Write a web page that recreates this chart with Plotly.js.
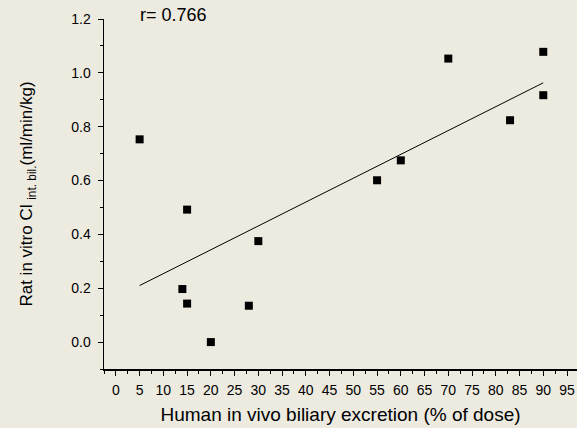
<!DOCTYPE html>
<html><head><meta charset="utf-8">
<script src="https://cdn.plot.ly/plotly-3.0.1.min.js"></script>
<style>html,body{margin:0;padding:0;background:#edeae0;}</style>
</head><body>
<div id="chart" style="width:577px;height:428px;"></div>
<script>
const excretion = [5, 15, 14, 15, 20, 28, 30, 55, 60, 70, 83, 90, 90];
const clearance = [0.753, 0.492, 0.197, 0.143, 0.0, 0.135, 0.375, 0.601, 0.675, 1.053, 0.824, 1.078, 0.917];
const fitX = [5, 90];
const fitY = [0.21, 0.963];
const xTicks = [0,5,10,15,20,25,30,35,40,45,50,55,60,65,70,75,80,85,90,95];
const yTicks = [0.0,0.2,0.4,0.6,0.8,1.0,1.2];
const rLabel = 'r= 0.766';

const font = 'Arial, "Liberation Sans", sans-serif';
const data = [
  {x: fitX, y: fitY, mode: 'lines', line: {color: '#000', width: 1}, showlegend: false, hoverinfo: 'skip'},
  {x: excretion, y: clearance, mode: 'markers', marker: {symbol: 'square', size: 8, color: '#000'}, showlegend: false}
];
const layout = {
  width: 577, height: 428,
  paper_bgcolor: '#edeae0', plot_bgcolor: '#edeae0',
  margin: {l: 104, r: 0, t: 19, b: 59},
  font: {family: font, color: '#000'},
  xaxis: {
    range: [-2.5, 97.1], tickvals: xTicks, ticktext: xTicks.map(String),
    showline: true, linecolor: '#000', linewidth: 1.5, ticks: 'outside', ticklen: 5, tickwidth: 1, tickcolor: '#000',
    minor: {dtick: 2.5, tick0: 0, ticks: 'outside', ticklen: 3, tickcolor: '#000', tickwidth: 1},
    showgrid: false, zeroline: false, tickfont: {size: 14}, ticklabelstandoff: 3,
    title: {text: 'Human in vivo biliary excretion (% of dose)', font: {size: 19}, standoff: 10}
  },
  yaxis: {
    range: [-0.1, 1.2], tickvals: yTicks, ticktext: yTicks.map(v => v.toFixed(1)),
    showline: true, linecolor: '#000', linewidth: 1.5, ticks: 'outside', ticklen: 5, tickwidth: 1, tickcolor: '#000',
    minor: {dtick: 0.1, tick0: 0, ticks: 'outside', ticklen: 3, tickcolor: '#000', tickwidth: 1},
    showgrid: false, zeroline: false, tickfont: {size: 14}, ticklabelstandoff: 4,
    title: {text: 'Rat in vitro Cl <sub>int. bil.</sub>(ml/min/kg)', font: {size: 17}, standoff: 34}
  },
  annotations: [{x: 0.072, y: 1, xref: 'paper', yref: 'paper', yshift: 4, text: rLabel, showarrow: false, xanchor: 'left', yanchor: 'middle', font: {size: 18}}]
};
Plotly.newPlot('chart', data, layout, {displayModeBar: false, staticPlot: true});
</script>
</body></html>
